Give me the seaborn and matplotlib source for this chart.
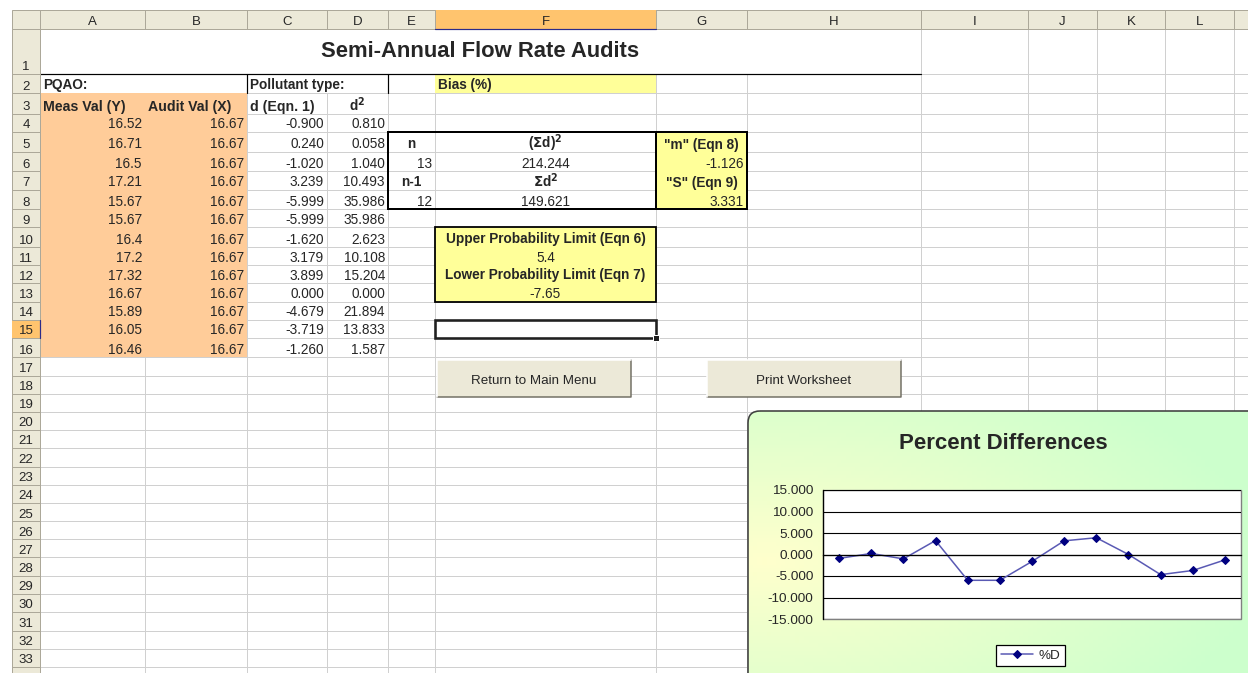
import numpy as np
import pandas as pd
import matplotlib
matplotlib.use('Agg')
import matplotlib.pyplot as plt
from matplotlib.patches import Rectangle, FancyBboxPatch
from matplotlib.ticker import FormatStrFormatter
import seaborn as sns

sns.set_style('white')
plt.rcParams['font.family'] = ['Liberation Sans', 'DejaVu Sans']

# worksheet values
meas_vals = [16.52, 16.71, 16.5, 17.21, 15.67, 15.67, 16.4, 17.2, 17.32, 16.67, 15.89, 16.05, 16.46]
audit_vals = [16.67] * 13
d_vals = [-0.900, 0.240, -1.020, 3.239, -5.999, -5.999, -1.620, 3.179, 3.899, 0.000, -4.679, -3.719, -1.260]
d2_vals = [0.810, 0.058, 1.040, 10.493, 35.986, 35.986, 2.623, 10.108, 15.204, 0.000, 21.894, 13.833, 1.587]
n_count = 13
n_minus_1 = 12
sum_d_sq = 214.244
sum_d2 = 149.621
m_val = -1.126
s_val = 3.331
upper_limit = '5.4'
lower_limit = '-7.65'
col_letters = ['A', 'B', 'C', 'D', 'E', 'F', 'G', 'H', 'I', 'J', 'K', 'L', '']

W, H = 1248, 673
# sheet geometry in pixels
col_x = [40, 145, 247, 327, 388, 435, 656, 747, 921, 1028, 1097, 1165, 1234, 1300]
row_y = [29, 74, 93, 114, 132, 152, 171, 190, 209, 227, 247, 265, 283, 302, 320, 338, 357,
         375.5, 393.5, 411.5, 430, 448, 466.5, 484.5, 502.5, 521, 539, 557, 575.5, 594, 612,
         630.5, 648.5, 666.5, 685]
PX = 0.72  # one pixel in points
FS = 9.8
grid_c = '#d0d0d0'
hdr_c = '#ece9d8'
hdr_edge = '#aca899'
sel_c = '#ffc46e'
orange = '#ffcc99'
yellow = '#ffff99'

fig = plt.figure(figsize=(W / 100, H / 100), dpi=100)
bg = fig.add_axes([0, 0, 1, 1])
bg.set_xlim(0, W)
bg.set_ylim(H, 0)
bg.axis('off')


def rect(x0, y0, x1, y1, fc='none', ec='none', lw=0, z=1, **kw):
    bg.add_patch(Rectangle((x0, y0), x1 - x0, y1 - y0, facecolor=fc, edgecolor=ec,
                           linewidth=lw, zorder=z, **kw))


def cell_text(col, row, s, ha='right', bold=False, size=FS):
    x0, x1 = col_x[col], col_x[col + 1]
    yb = row_y[row]
    if ha == 'right':
        x = x1 - 3
    elif ha == 'left':
        x = x0 + 3
    else:
        x = (x0 + x1) / 2
    bg.text(x, yb - 3.5, s, ha=ha, va='baseline', fontsize=size,
            fontweight='bold' if bold else 'normal', zorder=6)


# gridlines
for x in col_x:
    bg.plot([x, x], [row_y[0], H], color=grid_c, lw=PX, zorder=0)
for y in row_y:
    bg.plot([col_x[0], W], [y, y], color=grid_c, lw=PX, zorder=0)

# merged cells and fills
rect(col_x[0] + 0.5, row_y[0] + 0.5, col_x[8] - 0.5, row_y[1] - 0.5, fc='white', z=1)
rect(col_x[0] + 0.5, row_y[1] + 0.5, col_x[2] - 0.5, row_y[2] - 0.5, fc='white', z=1)
rect(col_x[2] + 0.5, row_y[1] + 0.5, col_x[4] - 0.5, row_y[2] - 0.5, fc='white', z=1)
rect(col_x[0], row_y[2], col_x[2], row_y[16], fc=orange, z=1)
rect(col_x[5], row_y[1], col_x[6], row_y[2], fc=yellow, z=1)
rect(col_x[6], row_y[4], col_x[7], row_y[8], fc=yellow, z=1)
rect(col_x[5], row_y[9], col_x[6], row_y[13], fc=yellow, z=1)

# borders
bg.plot([col_x[0], col_x[8]], [row_y[1], row_y[1]], color='black', lw=1.2 * PX, zorder=4)
for x in (col_x[2], col_x[4]):
    bg.plot([x, x], [row_y[1], row_y[2]], color='black', lw=1.2 * PX, zorder=4)
rect(col_x[4], row_y[4], col_x[6], row_y[8], ec='black', lw=2 * PX, z=4)
rect(col_x[6], row_y[4], col_x[7], row_y[8], ec='black', lw=2 * PX, z=4)
rect(col_x[5], row_y[9], col_x[6], row_y[13], ec='black', lw=1.8 * PX, z=4)
rect(col_x[5], row_y[14], col_x[6], row_y[15], ec='#202020', lw=2.6 * PX, z=4)
rect(col_x[6] - 3, row_y[15] - 3, col_x[6] + 3, row_y[15] + 3, fc='#202020', ec='white', lw=PX, z=5)

# title and labels
bg.text((col_x[0] + col_x[8]) / 2, row_y[1] - 17, 'Semi-Annual Flow Rate Audits', ha='center',
        va='baseline', fontsize=15.8, fontweight='bold', zorder=6)
cell_text(0, 2, 'PQAO:', ha='left', bold=True)
cell_text(2, 2, 'Pollutant type:', ha='left', bold=True)
cell_text(5, 2, 'Bias (%)', ha='left', bold=True)
cell_text(0, 3, 'Meas Val (Y)', ha='left', bold=True, size=10.2)
cell_text(1, 3, 'Audit Val (X)', ha='left', bold=True, size=10.2)
cell_text(2, 3, 'd (Eqn. 1)', ha='left', bold=True, size=10.2)
cell_text(3, 3, r'd$^{\mathbf{2}}$', ha='center', bold=True)
for i in range(len(meas_vals)):
    r = 4 + i
    cell_text(0, r, f'{meas_vals[i]:g}')
    cell_text(1, r, f'{audit_vals[i]:g}')
    cell_text(2, r, f'{d_vals[i]:.3f}')
    cell_text(3, r, f'{d2_vals[i]:.3f}')

cell_text(4, 5, 'n', ha='center', bold=True)
cell_text(5, 5, r'($\mathbf{\Sigma}$d)$^{\mathbf{2}}$', ha='center', bold=True)
cell_text(6, 5, '"m" (Eqn 8)', ha='center', bold=True)
cell_text(4, 6, str(n_count))
cell_text(5, 6, f'{sum_d_sq:.3f}', ha='center')
cell_text(6, 6, f'{m_val:.3f}')
cell_text(4, 7, 'n-1', ha='center', bold=True)
cell_text(5, 7, r'$\mathbf{\Sigma}$d$^{\mathbf{2}}$', ha='center', bold=True)
cell_text(6, 7, '"S" (Eqn 9)', ha='center', bold=True)
cell_text(4, 8, str(n_minus_1))
cell_text(5, 8, f'{sum_d2:.3f}', ha='center')
cell_text(6, 8, f'{s_val:.3f}')
cell_text(5, 10, 'Upper Probability Limit (Eqn 6)', ha='center', bold=True)
cell_text(5, 11, upper_limit, ha='center')
cell_text(5, 12, 'Lower Probability Limit (Eqn 7)', ha='center', bold=True)
cell_text(5, 13, lower_limit, ha='center')

# headers
rect(12, 10, W + 5, 29, fc=hdr_c, ec=hdr_edge, lw=PX, z=7)
rect(12, 29, 40, H + 5, fc=hdr_c, ec=hdr_edge, lw=PX, z=7)
rect(col_x[5], 10, col_x[6], 29, fc=sel_c, ec='none', z=7.5)
rect(12, row_y[14], 40, row_y[15], fc=sel_c, ec='none', z=7.5)
for i, letter in enumerate(col_letters):
    bg.plot([col_x[i + 1], col_x[i + 1]], [10, 29], color=hdr_edge, lw=PX, zorder=8)
    bg.text((col_x[i] + col_x[i + 1]) / 2, 25, letter, ha='center', va='baseline',
            fontsize=9.5, zorder=9)
bg.plot([40, 40], [10, 29], color=hdr_edge, lw=PX, zorder=8)
for r in range(1, len(row_y)):
    bg.plot([12, 40], [row_y[r], row_y[r]], color=hdr_edge, lw=PX, zorder=8)
    bg.text(26, row_y[r] - 3.5, str(r), ha='center', va='baseline',
            fontsize=9.5, zorder=9, clip_on=True)
bg.plot([col_x[5], col_x[6]], [28.5, 28.5], color='#2b2b8a', lw=1.2 * PX, zorder=8.5)
bg.plot([39.5, 39.5], [row_y[14], row_y[15]], color='#2b2b8a', lw=1.2 * PX, zorder=8.5)

# buttons
for (bx0, bx1), label in zip([(437, 631), (707, 901)], ['Return to Main Menu', 'Print Worksheet']):
    rect(bx0, 360, bx1, 397, fc=hdr_c, ec='none', z=5)
    bg.plot([bx0, bx1, bx1], [397, 397, 360], color='#716f64', lw=1.5 * PX, zorder=6)
    bg.plot([bx0, bx0, bx1], [397, 360, 360], color='white', lw=1.5 * PX, zorder=6)
    bg.text((bx0 + bx1) / 2, 384, label, ha='center', va='baseline', fontsize=9.6, zorder=7)

# chart area with gradient
box = FancyBboxPatch((748, 411), 560, 300, boxstyle='round,pad=0,rounding_size=12',
                     facecolor='none', edgecolor='#404040', linewidth=1.6 * PX, zorder=11)
bg.add_patch(box)
gx, gy = np.meshgrid(np.linspace(0, 1, 120), np.linspace(0, 1, 80))
t = np.clip(np.sqrt(((gx - 0.03) / 0.9) ** 2 + ((gy - 0.5) / 0.75) ** 2), 0, 1)
green = np.array([0.80, 1.0, 0.80])
yel = np.array([1.0, 1.0, 0.80])
img = yel * (1 - t[..., None]) + green * t[..., None]
im = bg.imshow(img, extent=[748, 1308, 711, 411], aspect='auto', zorder=10)
im.set_clip_path(box)
bg.text(1003, 449, 'Percent Differences', ha='center', va='baseline', fontsize=16,
        fontweight='bold', zorder=12)

df = pd.DataFrame({'point': np.arange(1, len(d_vals) + 1), 'pct_d': d_vals})
ax = fig.add_axes([823 / W, 1 - 619 / H, 418 / W, 129 / H], zorder=20)
ax.set_facecolor('white')
sns.lineplot(data=df, x='point', y='pct_d', ax=ax, color='#5a5ab4', lw=1.1, marker='D',
             markersize=4.5, markerfacecolor='#000080', markeredgecolor='#000080', label='%D')
ax.set_xlim(0.5, len(d_vals) + 0.5)
ax.set_ylim(-15, 15)
ax.set_yticks(np.arange(-15, 16, 5))
ax.yaxis.set_major_formatter(FormatStrFormatter('%.3f'))
ax.grid(axis='y', color='black', lw=0.8)
ax.grid(axis='x', visible=False)
ax.set_xlabel('')
ax.set_ylabel('')
ax.spines['top'].set_visible(False)
ax.spines['right'].set_visible(False)
ax.spines['left'].set_color('black')
ax.spines['left'].set_linewidth(0.9)
ax.spines['bottom'].set_position(('data', 0))
ax.spines['bottom'].set_color('black')
ax.spines['bottom'].set_linewidth(0.9)
ax.set_xticks(np.arange(1.5, len(d_vals) + 1, 1))
ax.set_xticklabels([])
ax.tick_params(axis='x', direction='out', length=4, width=0.8, color='black')
ax.tick_params(axis='y', direction='out', length=4, width=0.8, color='black',
               labelsize=9.7, pad=3)
ax.add_patch(Rectangle((0, 0), 1, 1, transform=ax.transAxes, fill=False, edgecolor='#808080',
                       lw=1, clip_on=False, zorder=0.5))
ax.legend(loc='center', bbox_to_anchor=(0.496, -0.283), frameon=True, fancybox=False,
          edgecolor='black', framealpha=1, fontsize=9.7, handlelength=2.4,
          borderpad=0.35, handletextpad=0.4)
ax.get_legend().get_frame().set_linewidth(0.9)

fig.savefig('out.png', dpi=100)
